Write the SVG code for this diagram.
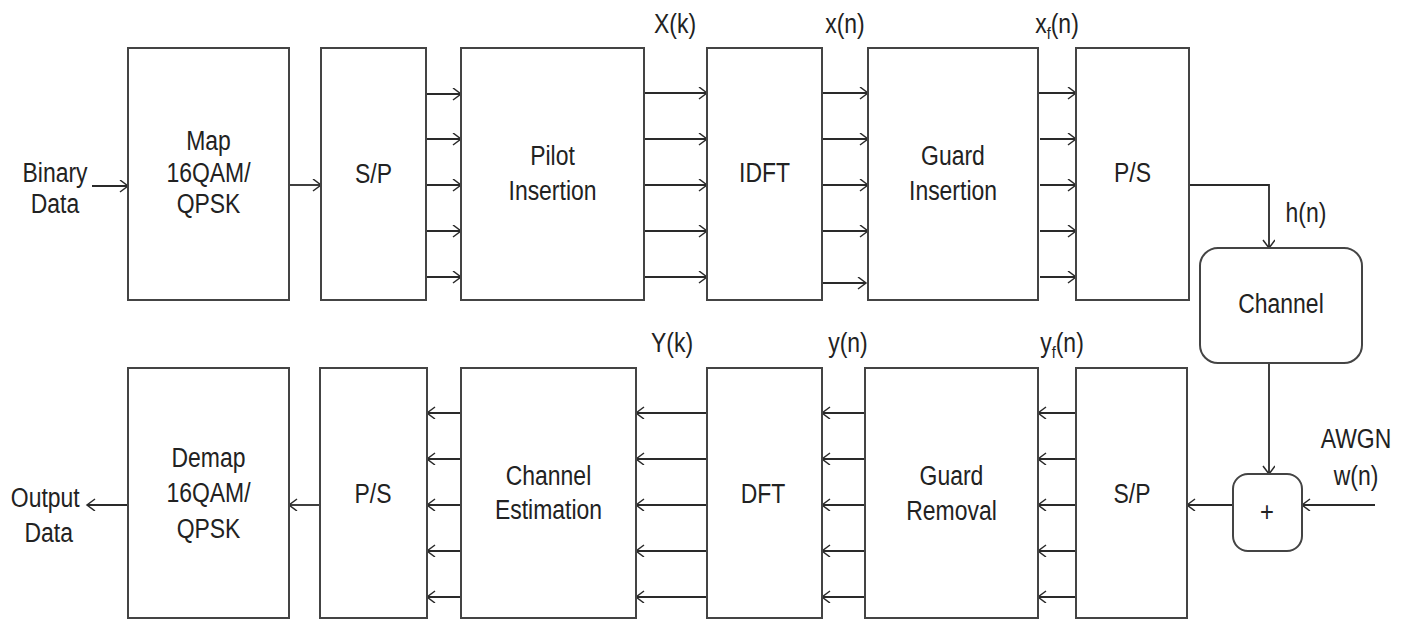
<svg xmlns="http://www.w3.org/2000/svg" width="1405" height="621" viewBox="0 0 1405 621">
<style>
.box{fill:#fff;stroke:#444;stroke-width:2}
.ln{fill:none;stroke:#2a2a2a;stroke-width:1.8}
.arr{marker-end:url(#ah)}
text{font-family:"Liberation Sans",Arial,sans-serif;font-size:27px;fill:#222;text-anchor:middle}
.sub{font-size:17px}
.pl{font-size:28px}
</style>
<defs>
<marker id="ah" markerUnits="userSpaceOnUse" markerWidth="12" markerHeight="14" refX="9" refY="6" orient="auto">
<path d="M1,0 L9,6 L1,12" fill="none" stroke="#2a2a2a" stroke-width="1.5"/>
</marker>
</defs>
<rect width="1405" height="621" fill="#fff"/>

<g id="connectors">
<path class="ln arr" d="M92,186 H128"/>
<path class="ln arr" d="M289,185 H321"/>
<path class="ln arr" d="M426,94 H461"/>
<path class="ln arr" d="M426,139 H461"/>
<path class="ln arr" d="M426,185 H461"/>
<path class="ln arr" d="M426,231 H461"/>
<path class="ln arr" d="M426,277 H461"/>
<path class="ln arr" d="M644,93 H707"/>
<path class="ln arr" d="M644,139 H707"/>
<path class="ln arr" d="M644,185 H707"/>
<path class="ln arr" d="M644,231 H707"/>
<path class="ln arr" d="M644,277 H707"/>
<path class="ln arr" d="M822,93 H868"/>
<path class="ln arr" d="M822,139 H868"/>
<path class="ln arr" d="M822,185 H868"/>
<path class="ln arr" d="M822,231 H868"/>
<path class="ln arr" d="M822,283 H866"/>
<path class="ln arr" d="M1038,93 H1076"/>
<path class="ln arr" d="M1040,139 H1076"/>
<path class="ln arr" d="M1040,185 H1076"/>
<path class="ln arr" d="M1040,231 H1076"/>
<path class="ln arr" d="M1040,277 H1076"/>
<path class="ln arr" d="M1189,185 H1269 V248"/>
<path class="ln arr" d="M1269,363 V474"/>
<path class="ln arr" d="M1375,505 H1302"/>
<path class="ln arr" d="M1233,505 H1187"/>
<path class="ln arr" d="M1076,413 H1038"/>
<path class="ln arr" d="M1076,459 H1038"/>
<path class="ln arr" d="M1076,505 H1038"/>
<path class="ln arr" d="M1076,551 H1038"/>
<path class="ln arr" d="M1076,597 H1038"/>
<path class="ln arr" d="M865,413 H822"/>
<path class="ln arr" d="M865,459 H822"/>
<path class="ln arr" d="M865,505 H822"/>
<path class="ln arr" d="M865,551 H822"/>
<path class="ln arr" d="M865,597 H822"/>
<path class="ln arr" d="M707,413 H636"/>
<path class="ln arr" d="M707,459 H636"/>
<path class="ln arr" d="M707,505 H636"/>
<path class="ln arr" d="M707,551 H636"/>
<path class="ln arr" d="M707,597 H636"/>
<path class="ln arr" d="M461,413 H427"/>
<path class="ln arr" d="M461,459 H427"/>
<path class="ln arr" d="M461,505 H427"/>
<path class="ln arr" d="M461,551 H427"/>
<path class="ln arr" d="M461,597 H427"/>
<path class="ln arr" d="M320,505 H289"/>
<path class="ln arr" d="M128,505 H87"/>
</g>

<g id="labels">
<text transform="translate(55 182) scale(0.85 1)"><tspan x="0">Binary</tspan><tspan x="0" dy="31">Data</tspan></text>
<text transform="translate(47 507) scale(0.85 1)"><tspan x="-2">Output</tspan><tspan x="2" dy="35">Data</tspan></text>
<text transform="translate(675 33) scale(0.85 1)">X(k)</text>
<text transform="translate(845 33) scale(0.85 1)">x(n)</text>
<text transform="translate(1057 33) scale(0.85 1)">x<tspan class="sub" dy="6">f</tspan><tspan dy="-6">(n)</tspan></text>
<text transform="translate(1306 222) scale(0.85 1)">h(n)</text>
<text transform="translate(672 352) scale(0.85 1)">Y(k)</text>
<text transform="translate(848 352) scale(0.85 1)">y(n)</text>
<text transform="translate(1062 352) scale(0.85 1)">y<tspan class="sub" dy="6">f</tspan><tspan dy="-6">(n)</tspan></text>
<text transform="translate(1356 448) scale(0.85 1)"><tspan x="0">AWGN</tspan><tspan x="0" dy="37">w(n)</tspan></text>
</g>

<g id="map">
<rect class="box" x="128" y="48" width="161" height="252"/>
<text transform="translate(208.5 150) scale(0.85 1)"><tspan x="0">Map</tspan><tspan x="0" dy="32">16QAM/</tspan><tspan x="0" dy="31">QPSK</tspan></text>
</g>
<g id="sp-tx">
<rect class="box" x="321" y="48" width="105" height="252"/>
<text transform="translate(373.5 183) scale(0.85 1)">S/P</text>
</g>
<g id="pilot">
<rect class="box" x="461" y="48" width="183" height="252"/>
<text transform="translate(552.5 165) scale(0.85 1)"><tspan x="0">Pilot</tspan><tspan x="0" dy="35">Insertion</tspan></text>
</g>
<g id="idft">
<rect class="box" x="707" y="48" width="115" height="252"/>
<text transform="translate(764.5 182) scale(0.85 1)">IDFT</text>
</g>
<g id="guard-ins">
<rect class="box" x="868" y="48" width="170" height="252"/>
<text transform="translate(953 165) scale(0.85 1)"><tspan x="0">Guard</tspan><tspan x="0" dy="35">Insertion</tspan></text>
</g>
<g id="ps-tx">
<rect class="box" x="1076" y="48" width="113" height="252"/>
<text transform="translate(1132.5 182) scale(0.85 1)">P/S</text>
</g>
<g id="channel">
<rect class="box" x="1200" y="248" width="162" height="115" rx="18" ry="18"/>
<text transform="translate(1281 313) scale(0.85 1)">Channel</text>
</g>
<g id="adder">
<rect class="box" x="1233" y="474" width="69" height="77" rx="15" ry="15"/>
<text class="pl" transform="translate(1267 521) scale(0.85 1)">+</text>
</g>
<g id="sp-rx">
<rect class="box" x="1076" y="368" width="111" height="250"/>
<text transform="translate(1132 503) scale(0.85 1)">S/P</text>
</g>
<g id="guard-rem">
<rect class="box" x="865" y="368" width="173" height="250"/>
<text transform="translate(951.5 485) scale(0.85 1)"><tspan x="0">Guard</tspan><tspan x="0" dy="35">Removal</tspan></text>
</g>
<g id="dft">
<rect class="box" x="707" y="368" width="115" height="250"/>
<text transform="translate(763 503) scale(0.85 1)">DFT</text>
</g>
<g id="chest">
<rect class="box" x="461" y="368" width="175" height="250"/>
<text transform="translate(548.5 485) scale(0.85 1)"><tspan x="0">Channel</tspan><tspan x="0" dy="34">Estimation</tspan></text>
</g>
<g id="ps-rx">
<rect class="box" x="320" y="368" width="107" height="250"/>
<text transform="translate(373 503) scale(0.85 1)">P/S</text>
</g>
<g id="demap">
<rect class="box" x="128" y="368" width="161" height="250"/>
<text transform="translate(208.5 467) scale(0.85 1)"><tspan x="0">Demap</tspan><tspan x="0" dy="35">16QAM/</tspan><tspan x="0" dy="36">QPSK</tspan></text>
</g>
</svg>
